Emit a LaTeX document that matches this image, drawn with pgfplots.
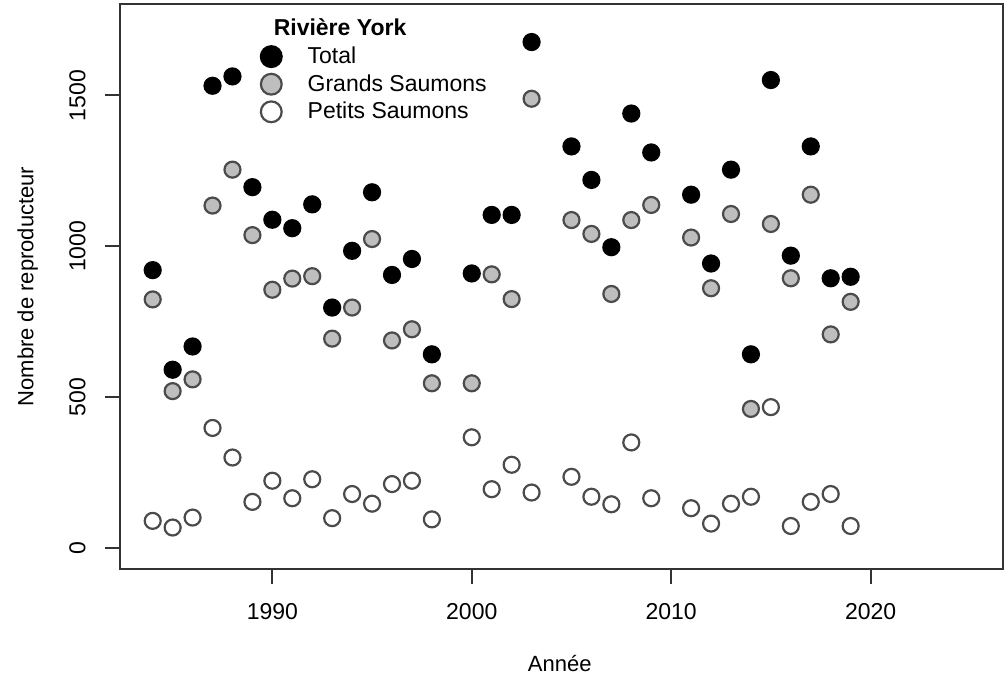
\documentclass[border=0pt]{standalone}
\usepackage{pgfplots}
\usepackage{pgfplotstable}
\pgfplotsset{compat=1.18}
\usepackage{fontspec}
\setmainfont{Liberation Sans}

% annee, total, grands saumons, petits saumons
\pgfplotstableread{
annee total grands petits
1984 921 824 90
1985 591 520 68
1986 668 559 101
1987 1532 1135 398
1988 1563 1254 300
1989 1196 1037 153
1990 1088 856 223
1991 1060 893 165
1992 1139 901 228
1993 797 694 99
1994 985 797 179
1995 1179 1024 147
1996 905 688 212
1997 958 725 223
1998 642 546 95
2000 910 546 367
2001 1104 907 195
2002 1104 825 276
2003 1677 1489 184
2005 1331 1087 236
2006 1220 1041 170
2007 997 842 145
2008 1440 1087 350
2009 1311 1137 165
2011 1171 1029 132
2012 943 861 81
2013 1254 1107 147
2014 642 461 170
2015 1551 1074 467
2016 969 894 73
2017 1331 1171 153
2018 894 708 179
2019 899 816 73
}\york

\definecolor{rgris}{RGB}{190,190,190}
\definecolor{contour}{RGB}{75,75,75}

\begin{document}
\begin{tikzpicture}
\begin{axis}[
    width=441.5pt, height=282.5pt,
    scale only axis,
    xmin=1982.36, xmax=2026.64,
    ymin=-69.5, ymax=1803,
    xtick={1990,2000,2010,2020},
    ytick={0,500,1000,1500},
    xtick pos=bottom, ytick pos=left,
    tick align=outside,
    major tick length=7.5pt,
    axis line style={line width=1pt, black!80},
    tick style={line width=1pt, black!80},
    /pgf/number format/assume math mode=true,
    /pgf/number format/1000 sep={},
    ticklabel style={font=\fontsize{11.5}{13}\selectfont},
    xticklabel style={anchor=north, inner sep=0pt, yshift=-9.5pt},
    yticklabel style={rotate=90, anchor=south, inner sep=0pt, yshift=9.5pt},
    xlabel={Année},
    ylabel={Nombre de reproducteur},
    label style={font=\fontsize{11}{13}\selectfont},
    xlabel style={at={(axis description cs:0.498,-0.168)}, anchor=center},
    ylabel style={at={(axis description cs:-0.1045,0.5)}, anchor=center, rotate=0},
    legend style={at={(axis description cs:0.1591,0.926)}, anchor=north west,
        draw=none, fill=none, inner sep=0pt, column sep=13pt, row sep=3.4pt,
        nodes={inner sep=0pt, font=\fontsize{11.5}{13}\selectfont}},
    legend cell align=left,
    legend image code/.code={\draw[mark size=5.2pt] plot coordinates {(0pt,0pt)};},
]
\addplot[only marks, mark=*, mark size=4pt, line width=1.1pt,
    draw=black, fill=black] table[x=annee, y=total] {\york};
\addlegendentry{Total}
\addplot[only marks, mark=*, mark size=4pt, line width=1.1pt,
    draw=contour, fill=rgris] table[x=annee, y=grands] {\york};
\addlegendentry{Grands Saumons}
\addplot[only marks, mark=*, mark size=4pt, line width=1.1pt,
    draw=contour, fill=white] table[x=annee, y=petits] {\york};
\addlegendentry{Petits Saumons}
\node[font=\bfseries\fontsize{11.5}{13}\selectfont, anchor=center]
    at (axis description cs:0.2492,0.959) {Rivière York};
\end{axis}
\pgfresetboundingbox
\path ([xshift=-60pt,yshift=-59.5pt]current axis.south west)
    rectangle ([xshift=1pt,yshift=2pt]current axis.north east);
\end{tikzpicture}
\end{document}
